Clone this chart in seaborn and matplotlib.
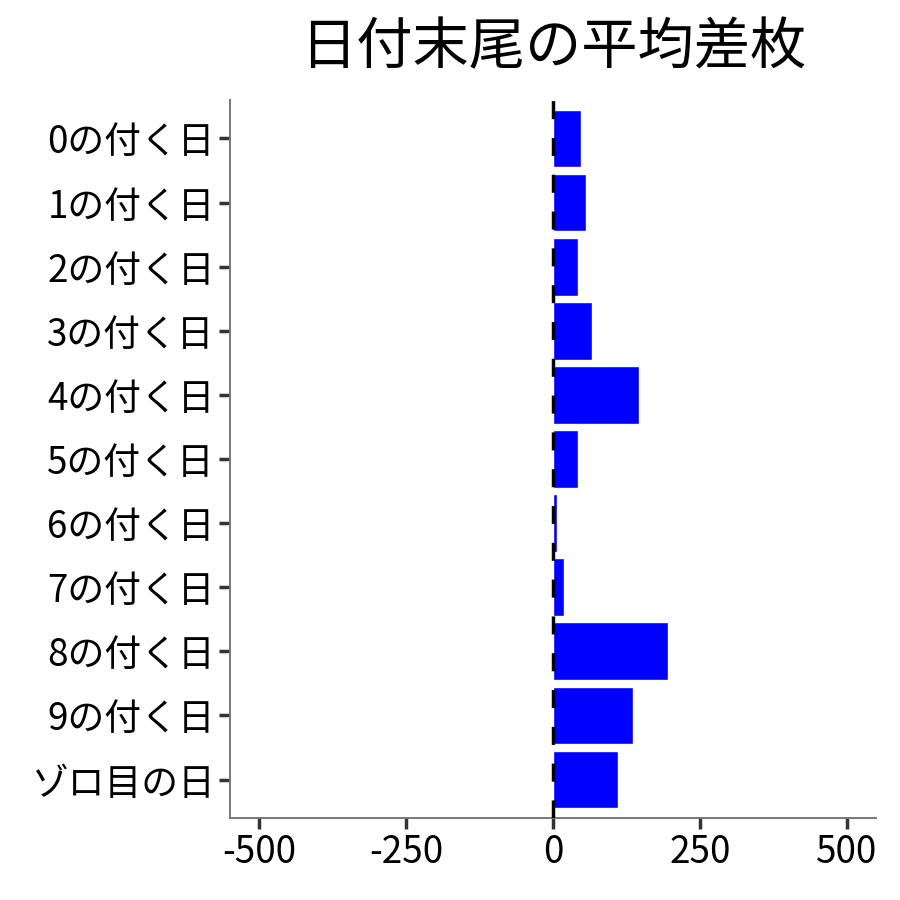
import pandas as pd
import numpy as np
import matplotlib.pyplot as plt
import seaborn as sns

# data
labels = ['0の付く日', '1の付く日', '2の付く日', '3の付く日', '4の付く日', '5の付く日',
          '6の付く日', '7の付く日', '8の付く日', '9の付く日', 'ゾロ目の日']
avg_diff = [47, 57, 42, 66, 146, 42, 7, 18, 195, 137, 110]
x_ticks = [-500, -250, 0, 250, 500]

df = pd.DataFrame({'label': labels, 'diff': avg_diff})

sns.set_style('white')
plt.rcParams['font.family'] = ['Noto Sans CJK JP', 'DejaVu Sans']

fig = plt.figure(figsize=(9, 9), dpi=100)
ax = fig.add_axes([0.2556, 0.0911, 0.7177, 0.7978])

sns.barplot(data=df, x='diff', y='label', order=labels, color='#0000ff',
            saturation=1, width=0.9, orient='h', ax=ax)
ax.axvline(0, color='black', linewidth=2.5, linestyle=(0, (5.2, 5.4)), zorder=3)

ax.set_xlim(-550, 550)
ax.set_ylim(10.6, -0.6)
ax.set_xticks(x_ticks)
ax.set_xticklabels([str(t) for t in x_ticks])
ax.set_xlabel('')
ax.set_ylabel('')
ax.set_title('日付末尾の平均差枚', fontsize=40.5, pad=26, color='black')

ax.tick_params(axis='both', labelsize=26.5, length=8, width=2.5, color='#333333',
               labelcolor='black', pad=3, direction='out')
ax.tick_params(left=True, bottom=True)
sns.despine(ax=ax)
for side in ['left', 'bottom']:
    ax.spines[side].set_color('#777777')
    ax.spines[side].set_linewidth(1.4)

fig.savefig('out.png', dpi=100)
